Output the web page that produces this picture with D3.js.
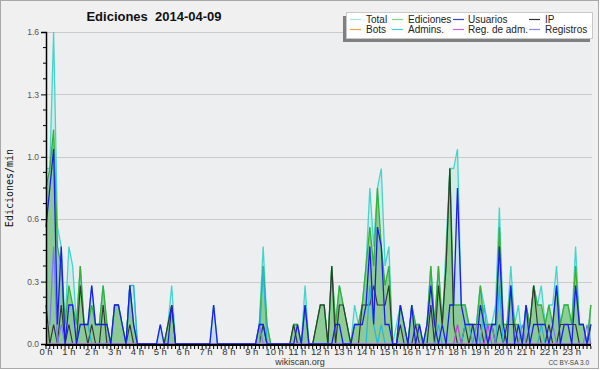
<!DOCTYPE html>
<html><head><meta charset="utf-8">
<script src="https://cdn.jsdelivr.net/npm/d3@7"></script>
<style>html,body{margin:0;padding:0;background:#fff}svg{display:block}</style>
</head><body><svg id="c" width="600" height="370"></svg>
<script>
// ---- data: one value per 10 minutes (144 points), edits per minute ----
const seriesNames = ["Total","Ediciones","Usuarios","IP","Bots","Admins.","Reg. de adm.","Registros"];
const hourLabels = d3.range(24).map(h => h + " h");
const yTickValues = [0, 0.32, 0.64, 0.96, 1.28, 1.6];

const total = [
0.9,0.9,1.6,0.6,0.5,0.1, 0.5,0.4,0.1,0.4,0.1,0.1, 0.3,0.1,0.1,0.3,0.1,0, 0.2,0.2,0.1,0,0.3,0.3,
0,0,0,0,0,0, 0.1,0,0.1,0.3,0,0, 0,0,0,0,0,0, 0,0,0.2,0,0,0,
0,0,0,0,0,0, 0,0,0.1,0.5,0.1,0, 0,0,0,0,0,0.1, 0.1,0,0.3,0,0,0.1,
0.2,0.2,0,0.4,0.1,0.3, 0.2,0.1,0,0.2,0.1,0.2, 0.4,0.8,0.5,0.8,0.9,0.4, 0.5,0,0.1,0.2,0.1,0,
0.2,0.1,0.1,0,0.1,0.4, 0.1,0.4,0.1,0.5,0.9,0.9, 1.0,0.2,0.2,0.1,0.1,0.1, 0.3,0.2,0.1,0.1,0.2,0.7,
0.1,0.1,0.4,0.1,0.2,0, 0.2,0.1,0.3,0.2,0.3,0.1, 0.2,0.2,0.4,0.1,0.2,0.2, 0.1,0.5,0.1,0.1,0,0.2];
const ediciones = [
0.8,0.9,1.1,0.5,0.4,0.1, 0.3,0.2,0.1,0.4,0.1,0.1, 0.2,0.1,0.1,0.3,0.1,0, 0.2,0.2,0.1,0,0.3,0.1,
0,0,0,0,0,0, 0,0,0.1,0.2,0,0, 0,0,0,0,0,0, 0,0,0,0,0,0,
0,0,0,0,0,0, 0,0,0.1,0.4,0.1,0, 0,0,0,0,0,0.1, 0.1,0,0.2,0,0,0.1,
0.2,0.2,0,0.4,0.1,0.3, 0.2,0.1,0,0.1,0.1,0.2, 0.4,0.6,0.4,0.8,0.5,0.3, 0.4,0,0,0.2,0.1,0,
0.2,0.1,0.1,0,0.1,0.4, 0.1,0.4,0.1,0.4,0.9,0.2, 0.2,0.2,0.2,0.1,0.1,0.1, 0.3,0.1,0.1,0.1,0.1,0.6,
0.1,0.1,0.3,0.1,0.1,0, 0.2,0.1,0.3,0.2,0.2,0.1, 0.2,0.1,0.3,0.1,0.2,0.2, 0.1,0.4,0.1,0.1,0,0.2];
const usuarios = [
0.6,0.8,1.0,0.1,0.5,0, 0.2,0.2,0,0.1,0.1,0.1, 0.3,0.1,0.1,0.1,0.1,0, 0.2,0.2,0.1,0,0.3,0.1,
0,0,0,0,0,0, 0.1,0,0,0.2,0,0, 0,0,0,0,0,0, 0,0,0.2,0,0,0,
0,0,0,0,0,0, 0,0,0.1,0.1,0,0, 0,0,0,0,0,0, 0.1,0,0.2,0,0,0,
0,0,0,0,0.1,0.1, 0,0,0,0.1,0.1,0.1, 0.2,0.5,0.1,0.6,0.5,0.1, 0.1,0,0,0.2,0.1,0,
0.2,0,0.1,0,0.1,0.3, 0.1,0,0.1,0,0.2,0.2, 0.8,0.2,0.1,0.1,0.1,0, 0.2,0.1,0,0.1,0.1,0.5,
0.1,0,0.3,0,0.1,0, 0.2,0,0.1,0.1,0.1,0.1, 0,0.1,0.3,0,0.1,0.1, 0,0.3,0.1,0.1,0,0.1];
const ip = [
0.2,0,0.1,0,0.2,0, 0.1,0,0,0.3,0.1,0, 0.1,0,0,0.2,0,0, 0,0,0,0,0.1,0,
0,0,0,0,0,0, 0,0,0.1,0.2,0,0, 0,0,0,0,0,0, 0,0,0,0,0,0,
0,0,0,0,0,0, 0,0,0,0.1,0,0, 0,0,0,0,0,0.1, 0,0,0,0,0,0.1,
0.2,0.2,0,0.4,0,0.2, 0.2,0.1,0,0,0,0.2, 0.2,0.2,0.3,0.2,0.2,0.2, 0.3,0,0,0.1,0,0,
0,0.1,0,0,0,0.2, 0,0.3,0.1,0.4,0.9,0.1, 0,0,0.1,0,0.1,0.1, 0.1,0,0,0.1,0,0.1,
0,0.1,0.1,0.1,0,0, 0,0.1,0.3,0.1,0,0, 0.1,0,0,0.1,0.1,0.1, 0.1,0.1,0,0,0,0.1];
const bots = [
0,0,0,0,0,0, 0,0,0,0,0,0, 0,0,0,0,0,0, 0,0,0,0,0,0,
0,0,0,0,0,0, 0,0,0,0,0,0, 0,0,0,0,0,0, 0,0,0,0,0,0,
0,0,0,0,0,0, 0,0,0,0,0,0, 0,0,0,0,0,0, 0,0,0,0,0,0,
0,0,0,0,0,0, 0,0,0,0,0,0, 0,0,0,0,0,0, 0,0,0,0,0,0,
0,0,0,0,0,0, 0,0,0,0,0,0, 0,0,0,0,0,0, 0,0,0,0,0,0,
0,0,0,0,0,0, 0,0,0,0,0,0, 0,0,0,0,0,0, 0,0,0,0,0,0];
const admins = [
0,0,0,0,0,0, 0,0,0,0.1,0.1,0.1, 0,0,0,0,0,0, 0,0,0,0,0.3,0.3,
0,0,0,0,0,0, 0,0,0,0,0,0, 0,0,0,0,0,0, 0,0,0,0,0,0,
0,0,0,0,0,0, 0,0,0,0.4,0,0, 0,0,0,0,0,0, 0,0,0,0,0,0,
0,0,0,0,0,0, 0,0,0,0,0,0, 0,0.3,0.1,0,0.1,0, 0,0,0,0,0,0,
0,0,0,0,0,0, 0,0.1,0,0,0,0, 0,0,0.1,0.1,0,0, 0,0.2,0,0,0,0.3,
0,0,0,0,0,0, 0,0,0,0,0.1,0, 0,0,0,0,0,0, 0,0,0,0,0,0];
const regAdm = [
0,0,0,0,0,0, 0,0,0,0,0,0, 0,0,0,0,0,0, 0,0,0,0,0,0,
0,0,0,0,0,0, 0,0,0,0,0,0, 0,0,0,0,0,0, 0,0,0,0,0,0,
0,0,0,0,0,0, 0,0,0,0,0,0, 0,0,0,0,0,0, 0,0,0,0,0,0,
0,0,0,0,0,0, 0,0,0,0,0,0, 0,0,0,0,0,0, 0,0,0,0,0,0,
0,0,0,0,0,0, 0,0,0,0,0,0, 0.1,0,0,0,0,0, 0,0,0.1,0,0,0,
0,0,0,0,0,0, 0,0,0,0,0,0, 0,0,0,0,0,0, 0,0,0,0,0,0];
const registros = [
0.1,0.1,0.5,0,0.1,0, 0,0,0,0,0,0, 0,0,0,0,0,0, 0,0,0,0,0,0,
0,0,0,0,0,0, 0,0,0,0,0,0, 0,0,0,0,0,0, 0,0,0,0,0,0,
0,0,0,0,0,0, 0,0,0.1,0,0,0, 0,0,0,0,0,0, 0,0,0,0,0,0,
0,0,0,0,0,0, 0,0,0,0,0,0, 0,0,0,0,0,0, 0,0,0,0,0,0,
0,0,0,0,0,0, 0,0,0,0,0,0, 0,0,0,0,0,0.1, 0,0,0,0.1,0,0,
0,0,0,0,0,0.1, 0,0,0,0,0,0, 0,0.1,0,0,0,0, 0,0,0,0,0.1,0];

// ---- drawing ----
const svg = d3.select("#c");
const W = 600, H = 370;
const x = d3.scaleLinear().domain([0, 24]).range([46, 46 + 24 * 22.86]);
const y = d3.scaleLinear().domain([0, 1.6]).range([344, 32]);
const xi = i => x(i / 6);

svg.append("rect").attr("x", 0.5).attr("y", 0.5).attr("width", W - 2).attr("height", H - 2)
  .attr("fill", "#f0f0f0").attr("stroke", "#a8a8a8");
svg.append("rect").attr("x", 46).attr("y", y(1.6)).attr("width", 546).attr("height", y(0) - y(1.6))
  .attr("fill", "#eceef0");

// grid
svg.append("g").selectAll("line").data(yTickValues.filter(d => d > 0)).join("line")
  .attr("x1", 47).attr("x2", 592).attr("y1", d => Math.round(y(d)) + 0.5).attr("y2", d => Math.round(y(d)) + 0.5)
  .attr("stroke", "#cbcbcb").attr("stroke-width", 1);

const idx = d3.range(144);
const area = arr => d3.area().x(i => xi(i)).y0(y(0)).y1(i => y(arr[i]))(idx);
const line = arr => d3.line().x(i => xi(i)).y(i => y(arr[i]))(idx);

const g = svg.append("g");
g.append("path").attr("d", area(total)).attr("fill", "rgba(175,232,222,0.45)");
g.append("path").attr("d", area(usuarios)).attr("fill", "rgba(120,150,240,0.15)");
g.append("path").attr("d", area(ediciones)).attr("fill", "rgba(115,192,115,0.7)");
const lines = [
  [total, "#45d4cc", 1.3],
  [ediciones, "#36b036", 1.3],
  [ip, "#2f3a30", 1.2],
  [bots, "#f0a040", 1.2],
  [admins, "#28b4dc", 1.2],
  [registros, "#7a7af8", 1.2],
  [regAdm, "#c040d8", 1.2],
  [usuarios, "#1c1cf0", 1.3]
];
lines.forEach(([arr, col, w]) => {
  g.append("path").attr("d", line(arr)).attr("fill", "none").attr("stroke", col)
    .attr("stroke-width", w).attr("stroke-linejoin", "miter");
});

// y axis
const yAxis = d3.axisLeft(y).tickValues(yTickValues).tickFormat(d3.format(".1f")).tickSize(5).tickPadding(2);
const ya = svg.append("g").attr("transform", "translate(46,0)").call(yAxis);
ya.select(".domain").attr("stroke", "#000").attr("stroke-width", 1.5);
ya.selectAll("text").attr("font-family", "Liberation Sans, Arial, sans-serif").attr("font-size", 8.5).attr("fill", "#555");
ya.selectAll(".tick line").attr("stroke", "#000");
const minorY = d3.range(0, 1.6001, 0.08).filter(v => !yTickValues.some(t => Math.abs(t - v) < 1e-6));
svg.append("g").selectAll("line").data(minorY).join("line")
  .attr("x1", 43).attr("x2", 46).attr("y1", d => y(d)).attr("y2", d => y(d)).attr("stroke", "#000");

// x axis
const xa = svg.append("g").attr("transform", "translate(0,344)");
xa.append("line").attr("x1", 45).attr("x2", 591).attr("y1", 1).attr("y2", 1).attr("stroke", "#000").attr("stroke-width", 2);
xa.selectAll("line.t").data(idx).join("line").attr("class", "t")
  .attr("x1", i => xi(i)).attr("x2", i => xi(i)).attr("y1", 2).attr("y2", 5).attr("stroke", "#000");
xa.selectAll("text").data(hourLabels).join("text")
  .attr("x", (d, h) => x(h)).attr("y", 11).attr("text-anchor", "middle")
  .attr("font-family", "Liberation Sans, Arial, sans-serif").attr("font-size", 9.5).attr("fill", "#333")
  .text(d => d);

// titles
svg.append("text").attr("x", 154).attr("y", 21).attr("text-anchor", "middle")
  .attr("font-family", "Liberation Sans, Arial, sans-serif").attr("font-weight", "bold").attr("font-size", 13)
  .attr("fill", "#111").text("Ediciones  2014-04-09").style("white-space", "pre");
svg.append("text").attr("transform", "translate(13,188) rotate(-90)").attr("text-anchor", "middle")
  .attr("font-family", "DejaVu Sans Mono, monospace").attr("font-size", 10).attr("fill", "#111").text("Ediciones/min");
svg.append("text").attr("x", 300).attr("y", 365).attr("text-anchor", "middle")
  .attr("font-family", "Liberation Sans, Arial, sans-serif").attr("font-size", 9).attr("fill", "#333").text("wikiscan.org");
svg.append("text").attr("x", 589).attr("y", 365).attr("text-anchor", "end")
  .attr("font-family", "Liberation Sans, Arial, sans-serif").attr("font-size", 6.5).attr("fill", "#444").text("CC BY-SA 3.0");

// legend
const legendColors = ["#a8e4dc","#88cc88","#3c3cd8","#333333","#f0a040","#48c8dc","#c860e0","#8888ee"];
const lg = svg.append("g");
lg.append("rect").attr("x", 343).attr("y", 16).attr("width", 247).attr("height", 26).attr("fill", "#808080");
lg.append("rect").attr("x", 346.5).attr("y", 12.5).attr("width", 246).attr("height", 26).attr("fill", "#fff").attr("stroke", "#c8c8c8");
const colSw = [350, 392, 453, 529], colTx = [366, 408, 468, 545];
seriesNames.forEach((n, k) => {
  const col = k % 4, row = Math.floor(k / 4);
  const ly = 19.5 + row * 10;
  lg.append("line").attr("x1", colSw[col]).attr("x2", colSw[col] + 11).attr("y1", ly).attr("y2", ly)
    .attr("stroke", legendColors[k]).attr("stroke-width", 1.2);
  lg.append("text").attr("x", colTx[col]).attr("y", ly + 3.5)
    .attr("font-family", "Liberation Sans, Arial, sans-serif").attr("font-size", 10).attr("fill", "#222").text(n);
});
</script></body></html>
